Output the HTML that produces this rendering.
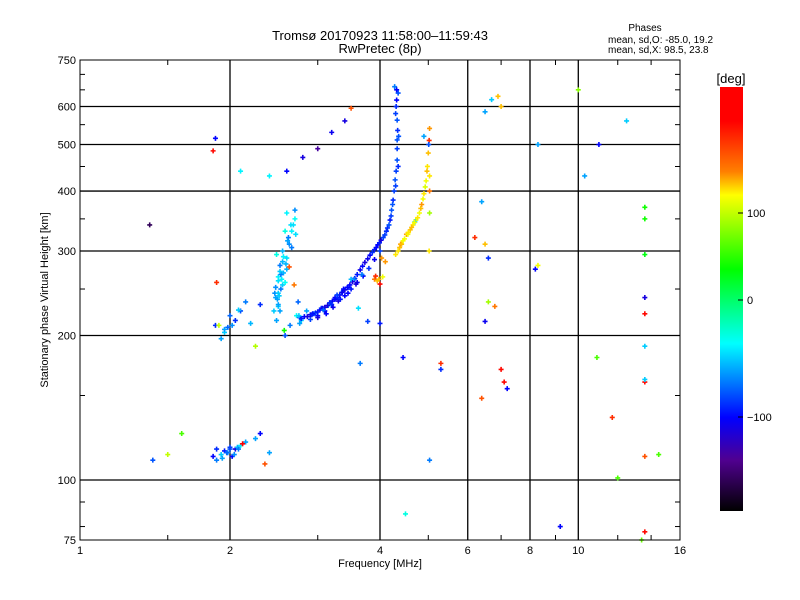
<!DOCTYPE html>
<html><head><meta charset="utf-8">
<style>
body{margin:0;background:#fff;}
svg{display:block;font-family:"Liberation Sans",sans-serif;}
</style></head>
<body>
<svg id="chart" width="800" height="600" viewBox="0 0 800 600">
<defs>
<linearGradient id="cbar" x1="0" y1="0" x2="0" y2="1">
<stop offset="0" stop-color="#ff0000"/>
<stop offset="0.08" stop-color="#ff0000"/>
<stop offset="0.2" stop-color="#ff8000"/>
<stop offset="0.255" stop-color="#ffff00"/>
<stop offset="0.43" stop-color="#00ff00"/>
<stop offset="0.605" stop-color="#00ffff"/>
<stop offset="0.78" stop-color="#0000ff"/>
<stop offset="0.88" stop-color="#500090"/>
<stop offset="1" stop-color="#000000"/>
</linearGradient>
</defs>
<g id="grid"></g>
<g id="marks"></g>
<rect x="80" y="60" width="600" height="480" fill="none" stroke="#000" stroke-width="1"/>
<g id="axes"></g>
<text x="380" y="40" font-size="13" text-anchor="middle">Tromsø 20170923 11:58:00–11:59:43</text>
<text x="380" y="53" font-size="13" text-anchor="middle">RwPretec (8p)</text>
<text x="645" y="31" font-size="10" text-anchor="middle">Phases</text>
<text x="608" y="43" font-size="10">mean, sd,O: -85.0, 19.2</text>
<text x="608" y="53" font-size="10">mean, sd,X:  98.5, 23.8</text>
<text x="380" y="567" font-size="11" text-anchor="middle">Frequency [MHz]</text>
<text x="48" y="300" font-size="11" text-anchor="middle" transform="rotate(-90 48 300)">Stationary phase Virtual Height [km]</text>
<rect x="720" y="87" width="23" height="424" fill="url(#cbar)"/>
<text x="731" y="83" font-size="13" text-anchor="middle">[deg]</text>
<g id="cbticks"></g>
</svg>
<script>
const xTicks=[1,2,4,6,8,10,16];
const xGrid=[2,4,6,8,10];
const yTicks=[75,100,200,300,400,500,600,750];
const yGrid=[100,200,300,400,500,600];
const cbTicks=[100,0,-100];
const freq=[2.76,2.82,2.9,2.97,3.03,3.1,3.17,3.25,3.32,3.4,3.48,3.56,3.65,3.73,3.82,3.9,3.96,4.02,4.09,4.14,4.19,4.22,4.25,4.27,4.29,4.31,4.33,4.33,4.33,4.34,4.33,4.32,
2.9,3.0,3.1,3.2,3.3,3.4,3.5,3.6,3.7,3.8,3.9,4.0,2.85,2.95,3.05,3.15,3.25,3.35,3.45,3.55,
2.45,2.47,2.5,2.52,2.55,2.58,2.6,2.48,2.5,2.53,2.56,2.6,2.63,2.66,2.7,2.74,2.78,2.46,2.5,2.55,2.62,2.68,2.72,2.5,2.55,2.6,2.48,2.52,2.57,2.64,2.5,2.53,2.58,
1.92,1.95,1.98,2.02,2.05,2.1,2.15,2.2,1.95,2.0,2.08,2.3,2.4,
1.85,1.88,1.92,1.95,1.98,2.02,2.05,2.1,2.15,2.0,2.07,2.25,2.3,2.35,1.88,
3.9,3.95,4.0,4.05,4.1,4.3,4.38,4.45,4.52,4.6,4.66,4.72,4.8,4.85,4.9,4.95,4.98,5.0,5.02,5.03,5.03,5.03,5.03,5.02,4.4,4.55,4.7,4.9,
1.85,1.87,2.1,2.4,2.6,2.8,3.0,3.2,3.4,3.5,3.65,1.6,1.4,1.5,1.38,1.87,1.9,2.25,
4.45,4.5,5.3,5.3,6.2,6.4,6.5,6.6,6.7,6.8,7.0,7.1,7.2,6.4,6.9,6.6,6.5,7.0,8.2,8.3,8.3,9.2,10.0,10.3,10.9,11.7,12.5,13.6,13.6,13.6,13.6,13.6,13.6,13.6,13.6,13.6,13.4,13.6,14.5,12.0,11.0,6.5,
2.78,2.86,2.93,3.0,3.07,3.14,3.21,3.29,3.36,3.44,3.52,3.6,3.69,3.78,3.86,3.93,3.99,4.06,4.12,4.17,4.21,4.24,4.3,4.35,4.36,4.3,4.31,4.35,4.28,4.32,4.0,
3.0,3.12,3.22,3.33,3.45,3.58,3.68,3.78,2.92,3.08,3.18,3.28,3.38,3.5,3.62,
2.47,2.52,2.56,2.61,2.65,2.7,2.75,2.49,2.54,2.59,2.66,2.71,2.76,2.51,2.58,2.63,2.69,
3.92,3.98,4.03,4.35,4.42,4.48,4.56,4.63,4.69,4.76,4.83,4.88,4.93,4.97,5.01,5.03,
1.88,1.93,1.97,2.0,2.04,2.08,2.12,2.17];
const height=[218,219,221,223,226,229,234,238,243,249,255,263,274,284,294,302,309,316,324,335,348,365,383,400,422,440,464,490,511,535,562,619,
216,220,225,232,236,242,250,258,266,276,288,300,225,222,228,231,240,246,252,262,
225,240,260,280,300,330,360,215,230,250,270,290,310,330,350,235,215,245,265,285,320,340,220,232,255,275,295,225,205,210,245,268,
200,197,203,208,210,215,225,235,212,206,220,226,232,
114,112,110,113,115,114,112,116,118,120,116,117,122,125,108,
258,262,260,256,265,285,295,305,315,325,332,340,348,360,375,395,420,450,480,510,540,430,400,360,300,310,325,345,
520,485,515,440,430,440,470,490,530,560,595,175,125,110,113,340,210,210,
190,180,85,175,170,320,380,310,290,620,230,600,160,155,148,630,235,585,170,275,500,280,80,650,430,180,135,560,370,350,295,240,222,190,160,112,78,75,162,113,101,500,
214,217,219,222,224,228,231,236,240,246,252,259,268,279,289,298,305,312,320,330,340,355,375,410,450,520,580,600,640,660,650,
212,218,222,229,238,245,256,268,214,221,226,234,243,250,262,
228,252,272,292,315,340,365,220,238,262,282,305,325,212,242,258,278,
255,266,262,290,300,310,318,328,336,344,352,368,385,408,440,500,
110,116,111,114,117,113,116,119];
const phase=[-95,-100,-110,-95,-100,-110,-95,-100,-105,-110,-100,-95,-105,-110,-100,-95,-100,-110,-85,-90,-95,-80,-90,-85,-80,-85,-80,-85,-80,-90,-80,-100,
-85,-100,-105,-90,-110,-100,-95,-105,-100,-90,-105,-85,-60,-80,-90,-60,-100,-80,-95,-70,
-50,-60,-45,-70,-55,-30,-40,-60,-50,-70,-55,-45,-65,-40,-35,-75,-50,-65,-40,-55,-70,-45,-35,-60,-50,-55,-30,-60,40,-70,-50,
-70,-80,-60,-50,-75,-65,-90,-80,-70,-55,-60,-75,-50,
-90,-60,-100,-70,-50,-95,-65,-100,-110,-40,-60,-80,-55,-60,-100,
140,150,130,120,160,110,125,115,120,110,125,120,115,105,110,125,115,110,115,120,150,125,115,130,90,115,125,110,
-50,-60,160,-100,-40,-40,-100,-110,-130,-105,-110,140,-70,60,-80,100,-150,-90,
100,95,-100,-30,150,-90,150,-60,120,-90,-50,130,120,160,-100,140,120,90,-60,160,-100,-60,110,-100,80,-60,60,150,-50,40,40,30,-110,160,-50,160,140,160,70,-50,60,60,
-100,-105,-95,-110,-100,-95,-105,-110,-100,-95,-105,-100,-110,-95,-100,-105,-90,-100,-95,-85,-90,-80,-85,-80,-85,-90,-80,-85,-90,-80,-70,
-100,-95,-110,-100,-105,-95,-100,-110,-70,-85,-95,-75,-90,-85,-100,
-55,-45,-65,-50,-40,-60,-45,-65,-50,-60,-40,-55,-70,-45,-60,-50,-35,
140,130,150,120,125,115,120,110,115,120,110,115,120,110,105,120,
-80,-70,-90,-60,-75,-85,-65,-70];

const NS='http://www.w3.org/2000/svg';
const X=f=>80+150*Math.log2(f);
const Y=h=>540-480*Math.log10(h/75);
function el(t,a,p){const e=document.createElementNS(NS,t);for(const k in a)e.setAttribute(k,a[k]);p.appendChild(e);return e;}
const grid=document.getElementById('grid'),axes=document.getElementById('axes'),marks=document.getElementById('marks'),cbg=document.getElementById('cbticks');
xGrid.forEach(v=>{const l=el('line',{x1:X(v),x2:X(v),y1:60,y2:540,stroke:'#000','stroke-width':1.3},grid);

});
yGrid.forEach(v=>{const l=el('line',{x1:80,x2:680,y1:Y(v),y2:Y(v),stroke:'#000','stroke-width':1.3},grid);

});
xTicks.forEach(v=>{const t=el('text',{x:X(v),y:554,'font-size':11,'text-anchor':'middle'},axes);t.textContent=v;

});
yTicks.forEach(v=>{const t=el('text',{x:76,y:Y(v)+4,'font-size':11,'text-anchor':'end'},axes);t.textContent=v;

});
[1.5,3,5,7,9,12,14].forEach(v=>{el('line',{x1:X(v),x2:X(v),y1:540,y2:535,stroke:'#000'},axes);el('line',{x1:X(v),x2:X(v),y1:60,y2:65,stroke:'#000'},axes);});
[80,90,150,250,350,450,550,650,700].forEach(v=>{el('line',{x1:80,x2:85,y1:Y(v),y2:Y(v),stroke:'#000'},axes);el('line',{x1:675,x2:680,y1:Y(v),y2:Y(v),stroke:'#000'},axes);});
const cbP=[-175,-100,0,100,185],cbY=[511,417,300,213,87];
function py(p){if(p<=cbP[0])return cbY[0];for(let i=1;i<cbP.length;i++){if(p<=cbP[i]){const t=(p-cbP[i-1])/(cbP[i]-cbP[i-1]);return cbY[i-1]+t*(cbY[i]-cbY[i-1]);}}return cbY[cbY.length-1];}
const cs=[[0,[255,0,0]],[0.08,[255,0,0]],[0.2,[255,128,0]],[0.255,[255,255,0]],[0.43,[0,255,0]],[0.605,[0,255,255]],[0.78,[0,0,255]],[0.88,[80,0,144]],[1,[0,0,0]]];
function col(p){const f=(py(p)-87)/424;for(let i=1;i<cs.length;i++){if(f<=cs[i][0]){const t=(f-cs[i-1][0])/(cs[i][0]-cs[i-1][0]||1);const c=cs[i-1][1].map((v,k)=>Math.round(v+t*(cs[i][1][k]-v)));return 'rgb('+c.join(',')+')';}}return '#000';}
cbTicks.forEach(v=>{const y=py(v);el('line',{x1:738,x2:743,y1:y,y2:y,stroke:'#000'},cbg);const t=el('text',{x:747,y:y+4,'font-size':11},cbg);t.textContent=(v<0?'−'+(-v):v);

});
for(let i=0;i<freq.length;i++){const x=X(freq[i]),y=Y(height[i]),c=col(phase[i]);
const g=el('path',{d:`M${x-2.5},${y}h5M${x},${y-2.5}v5`,stroke:c,'stroke-width':1.6},marks);

}
</script>
</body></html>
